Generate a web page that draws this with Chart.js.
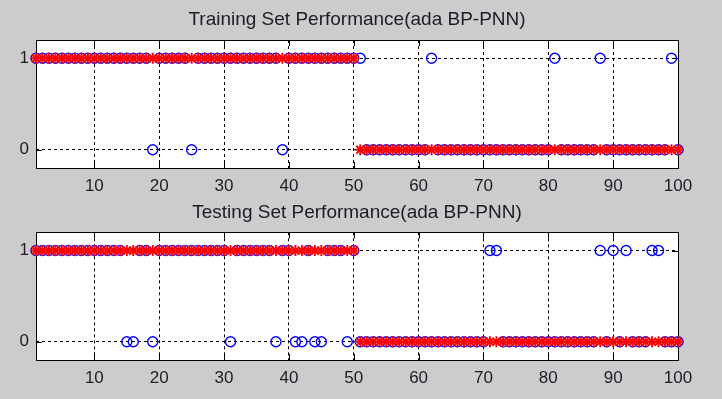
<!DOCTYPE html>
<html>
<head>
<meta charset="utf-8">
<script src="https://cdn.jsdelivr.net/npm/chart.js@4"></script>
<style>
    body { margin: 0; background: #cccccc; }
    canvas { position: absolute; left: 0; }
</style>
</head>
<body>
<canvas id="train" width="722" height="200" style="top:0"></canvas>
<canvas id="test" width="722" height="199" style="top:200px"></canvas>
<script>
// sample numbers 1..100
const sampleIdx = [
    1,2,3,4,5,6,7,8,9,10,11,12,13,14,15,16,17,18,19,20,21,22,23,24,25,
    26,27,28,29,30,31,32,33,34,35,36,37,38,39,40,41,42,43,44,45,46,47,48,49,50,
    51,52,53,54,55,56,57,58,59,60,61,62,63,64,65,66,67,68,69,70,71,72,73,74,75,
    76,77,78,79,80,81,82,83,84,85,86,87,88,89,90,91,92,93,94,95,96,97,98,99,100
]
const xTickVals = [10,20,30,40,50,60,70,80,90,100]
const yTickVals = [0,1]

// red * = real class, blue o = network output
const trainActual = [
    1,1,1,1,1,1,1,1,1,1, 1,1,1,1,1,1,1,1,1,1, 1,1,1,1,1,1,1,1,1,1, 1,1,1,1,1,1,1,1,1,1, 1,1,1,1,1,1,1,1,1,1,
    0,0,0,0,0,0,0,0,0,0, 0,0,0,0,0,0,0,0,0,0, 0,0,0,0,0,0,0,0,0,0, 0,0,0,0,0,0,0,0,0,0, 0,0,0,0,0,0,0,0,0,0
]
const trainPred = [
    1,1,1,1,1,1,1,1,1,1, 1,1,1,1,1,1,1,1,0,1, 1,1,1,1,0,1,1,1,1,1, 1,1,1,1,1,1,1,1,0,1, 1,1,1,1,1,1,1,1,1,1,
    1,0,0,0,0,0,0,0,0,0, 0,1,0,0,0,0,0,0,0,0, 0,0,0,0,0,0,0,0,0,0, 1,0,0,0,0,0,0,1,0,0, 0,0,0,0,0,0,0,0,1,0
]
const testActual = [
    1,1,1,1,1,1,1,1,1,1, 1,1,1,1,1,1,1,1,1,1, 1,1,1,1,1,1,1,1,1,1, 1,1,1,1,1,1,1,1,1,1, 1,1,1,1,1,1,1,1,1,1,
    0,0,0,0,0,0,0,0,0,0, 0,0,0,0,0,0,0,0,0,0, 0,0,0,0,0,0,0,0,0,0, 0,0,0,0,0,0,0,0,0,0, 0,0,0,0,0,0,0,0,0,0
]
const testPred = [
    1,1,1,1,1,1,1,1,1,1, 1,1,1,1,0,0,1,1,0,1, 1,1,1,1,1,1,1,1,1,1, 0,1,1,1,1,1,1,0,1,1, 0,0,1,0,0,1,1,1,0,1,
    0,0,0,0,0,0,0,0,0,0, 0,0,0,0,0,0,0,0,0,0, 1,1,0,0,0,0,0,0,0,0, 0,0,0,0,0,0,0,1,0,1, 0,1,0,0,0,1,1,0,0,0
]

const textColor = '#1e1a28'
const fontFam = '"Liberation Sans", Arial, sans-serif'

function pts(arr) {
    return arr.map((v, i) => ({x: sampleIdx[i], y: v}))
}

// white axes background, black box with inner ticks (matlab look)
const axesBox = {
    id: 'axesBox',
    beforeDraw(chart) {
        const a = chart.chartArea
        const c = chart.ctx
        c.save()
        c.fillStyle = '#ffffff'
        c.fillRect(a.left, a.top, a.right - a.left, a.bottom - a.top)
        c.restore()
    },
    beforeDatasetsDraw(chart) {
        const a = chart.chartArea
        const c = chart.ctx
        const xs = chart.scales.x
        const ys = chart.scales.y
        const tl = 6
        c.save()
        c.strokeStyle = '#000'
        c.lineWidth = 1
        c.setLineDash([])
        c.strokeRect(Math.round(a.left) + 0.5, Math.round(a.top) + 0.5, Math.round(a.right - a.left), Math.round(a.bottom - a.top))
        c.beginPath()
        xTickVals.forEach(v => {
            const px = Math.round(xs.getPixelForValue(v)) + 0.5
            c.moveTo(px, a.bottom); c.lineTo(px, a.bottom - tl)
            c.moveTo(px, a.top); c.lineTo(px, a.top + tl)
        })
        yTickVals.forEach(v => {
            const py = Math.round(ys.getPixelForValue(v)) + 0.5
            c.moveTo(a.left, py); c.lineTo(a.left + tl, py)
            c.moveTo(a.right, py); c.lineTo(a.right - tl, py)
        })
        c.stroke()
        c.restore()
    }
}

function makeChart(id, titleText, actual, pred, titlePad, xAxisH) {
    return new Chart(document.getElementById(id), {
        type: 'scatter',
        data: {
            datasets: [{
                label: 'actual',
                data: pts(actual),
                pointStyle: 'star',
                pointRadius: 5.5,
                pointBorderWidth: 2,
                borderColor: '#ff0000',
                backgroundColor: '#ff0000',
                clip: false
            },
            {
                label: 'output',
                data: pts(pred),
                pointStyle: 'circle',
                pointRadius: 5,
                pointBorderWidth: 1.4,
                borderColor: '#0000ff',
                backgroundColor: 'rgba(0,0,0,0)',
                clip: false
            }]
        },
        options: {
            responsive: false,
            animation: false,
            events: [],
            layout: { padding: { left: 0, right: 44, top: 0, bottom: 0 } },
            plugins: {
                legend: { display: false },
                tooltip: { enabled: false },
                title: {
                    display: true,
                    text: titleText,
                    color: textColor,
                    fullSize: false,
                    font: { family: fontFam, size: 19, weight: 'normal' },
                    padding: titlePad
                }
            },
            scales: {
                x: {
                    type: 'linear',
                    min: 1,
                    max: 100,
                    afterBuildTicks: s => { s.ticks = xTickVals.map(v => ({value: v})) },
                    afterFit: s => { s.height = xAxisH },
                    grid: { color: '#000', lineWidth: 1, drawTicks: false },
                    border: { display: false, dash: [3, 3] },
                    ticks: { color: textColor, padding: 8, maxRotation: 0, font: { family: fontFam, size: 17 } }
                },
                y: {
                    min: -0.2,
                    max: 1.2,
                    afterBuildTicks: s => { s.ticks = yTickVals.map(v => ({value: v})) },
                    afterFit: s => { s.width = 36 },
                    grid: { color: '#000', lineWidth: 1, drawTicks: false },
                    border: { display: false, dash: [3, 3] },
                    ticks: { color: textColor, padding: 7, font: { family: fontFam, size: 17 } }
                }
            }
        },
        plugins: [axesBox]
    })
}

makeChart('train', 'Training Set Performance(ada BP-PNN)', trainActual, trainPred, {top: 8, bottom: 9.2}, 32)
makeChart('test', 'Testing Set Performance(ada BP-PNN)', testActual, testPred, {top: 1.3, bottom: 8.2}, 39)
</script>
</body>
</html>
